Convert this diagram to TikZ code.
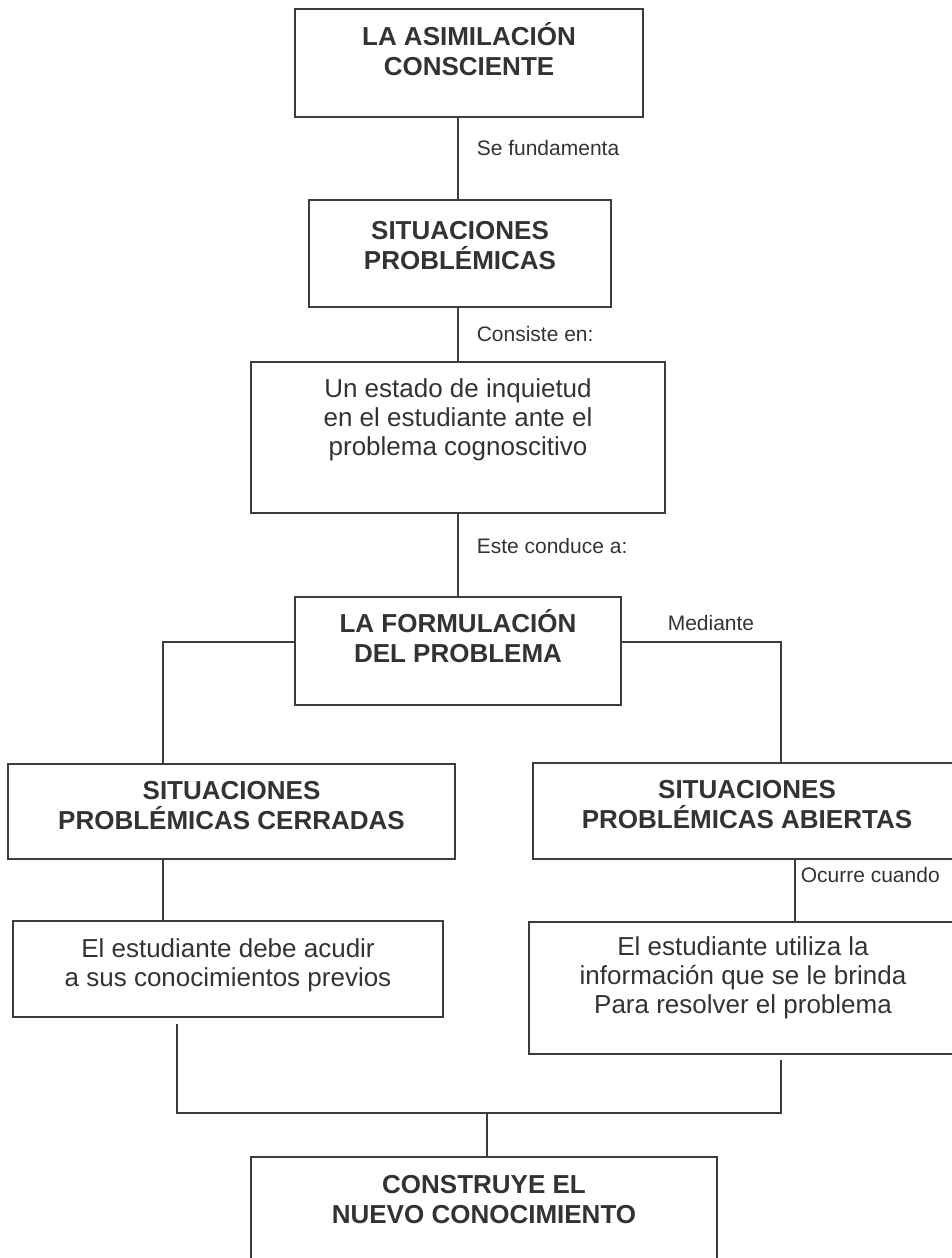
\documentclass[tikz,border=0pt]{standalone}
\usepackage{fontspec}
\setmainfont{Liberation Sans}
\usepackage{tikz}

\definecolor{tc}{HTML}{333333}
\definecolor{lc}{HTML}{3D3D3D}

\newcommand{\boldfont}{\fontsize{26}{30.5}\selectfont\bfseries}
\newcommand{\txtfont}{\fontsize{26}{29}\selectfont}
\newcommand{\lblfont}{\fontsize{21}{24}\selectfont}
% box text: [first baseline]{height}{width}{font}{lines}
\newcommand{\boxtxt}[5][36pt]{\parbox[t][#2][t]{#3}{#4\centering\rule{0pt}{#1}#5}}

\tikzset{
  box/.style={draw=lc, line width=1.6pt, inner sep=0pt, text=tc},
  wire/.style={draw=lc, line width=1.6pt},
  every edge/.style={wire},
  lbl/.style={font=\lblfont, text=tc, inner sep=0pt},
  side/.style={lbl, anchor=west, xshift=18pt}
}

\begin{document}
\begin{tikzpicture}[x=1pt, y=-1pt]
\useasboundingbox (0,0) rectangle (951,1258);

\node[box] (asim)    at (469,63)     {\boxtxt{108pt}{348pt}{\boldfont}{LA ASIMILACIÓN\\CONSCIENTE}};
\node[box] (sitp)    at (460,253.5)  {\boxtxt[39pt]{107pt}{302pt}{\boldfont}{SITUACIONES\\PROBLÉMICAS}};
\node[box] (estado)  at (458,437.5)  {\boxtxt[35pt]{151pt}{414pt}{\txtfont}{Un estado de inquietud\\en el estudiante ante el\\problema cognoscitivo}};
\node[box] (formu)   at (458,651)    {\boxtxt[35pt]{108pt}{326pt}{\boldfont}{LA FORMULACIÓN\\DEL PROBLEMA}};
\node[box] (cerr)    at (231.5,811.5){\boxtxt[35pt]{95pt}{447pt}{\boldfont}{SITUACIONES\\PROBLÉMICAS CERRADAS}};
\node[box] (abier)   at (747,811)    {\boxtxt[35pt]{96pt}{428pt}{\boldfont}{SITUACIONES\\PROBLÉMICAS ABIERTAS}};
\node[box] (previos) at (228,969)    {\boxtxt{96pt}{430pt}{\txtfont}{El estudiante debe acudir\\a sus conocimientos previos}};
\node[box] (utiliza) at (743,988)    {\boxtxt[33pt]{132pt}{428pt}{\txtfont}{El estudiante utiliza la\\información que se le brinda\\Para resolver el problema}};
\node[box] (nuevo)   at (484,1216)   {\boxtxt{118pt}{466pt}{\boldfont}{CONSTRUYE EL\\NUEVO CONOCIMIENTO}};

\coordinate (lspine) at (163,0);
\coordinate (rspine) at (781,0);
\coordinate (ospine) at (795,0);
\coordinate (lfoot)  at (177,1024);
\coordinate (rfoot)  at (781,1060);
\coordinate (join)   at (487,1113);

\path
(asim.south -| estado) edge node[side, pos=.37]{Se fundamenta} (sitp.north -| estado)
(sitp.south -| estado) edge node[side, pos=.49]{Consiste en:} (estado)
(estado) edge node[side, pos=.39]{Este conduce a:} (formu)
(cerr.south -| lspine) edge (previos.north -| lspine)
(abier.south -| ospine) edge node[side, xshift=-13pt, pos=.25]{Ocurre cuando} (utiliza.north -| ospine)
(join) edge (join |- nuevo.north);

\draw[wire] ([yshift=9pt]formu.west) -| (cerr.north -| lspine);
\draw[wire] ([yshift=9pt]formu.east) -| node[lbl, pos=.28, above=11pt]{Mediante} (abier.north -| rspine);
\draw[wire] (lfoot) |- (join) -| (rfoot);

\end{tikzpicture}
\end{document}
